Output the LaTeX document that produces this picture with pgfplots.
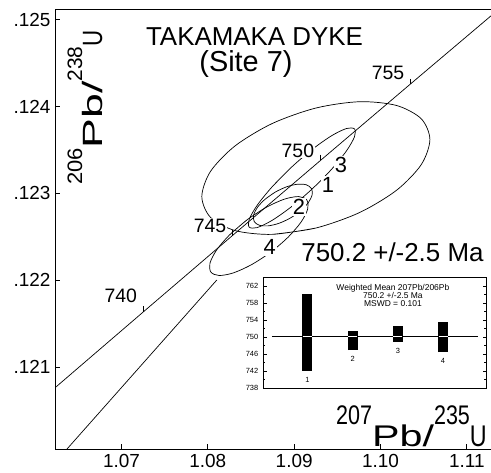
\documentclass[border=0pt]{standalone}
\usepackage{pgfplots}
\pgfplotsset{compat=1.18}
\usepackage{fontspec}
\setmainfont{Liberation Sans}
\usepackage{graphicx}
\newcommand{\fs}[1]{\fontsize{#1}{#1}\selectfont}
\begin{document}
\begin{tikzpicture}
\begin{axis}[
  name=main,
  scale only axis, width=436bp, height=440.3bp,
  xmin=1.0623, xmax=1.1128, ymin=0.120057, ymax=0.125121,
  axis x line*=bottom, axis y line*=left,
  axis line style={line width=0.9bp, black},
  xtick={1.07,1.08,1.09,1.10,1.11},
  xticklabels={1.07,1.08,1.09,1.10,1.11},
  ytick={0.121,0.122,0.123,0.124,0.125},
  yticklabels={.121,.122,.123,.124,.125},
  scaled x ticks=false, scaled y ticks=false,
  tick align=inside, major tick length=5bp,
  tick style={line width=0.7bp, black},
  ticklabel style={font=\fs{19}},
  xticklabel style={yshift=-1.5bp, inner sep=3bp},
  yticklabel style={xshift=-1bp},
  every axis plot/.append style={line width=0.7bp, black},
]
% ellipse 1 (large)
\addplot[smooth] coordinates {
(1.092514,0.1226017) (1.087459,0.1225289) (1.083174,0.1225721) (1.080310,0.1227249)
(1.079305,0.1229640) (1.080310,0.1232531) (1.083174,0.1235479) (1.087459,0.1238039)
(1.092514,0.1239819) (1.097569,0.1240547) (1.101854,0.1240115) (1.104718,0.1238587)
(1.105723,0.1236196) (1.104718,0.1233305) (1.101854,0.1230357) (1.097569,0.1227797)
(1.092514,0.1226017) (1.087459,0.1225289)};
% ellipse 3
\addplot[smooth] coordinates {
(1.089707,0.1233030) (1.087462,0.1230773) (1.085739,0.1228667) (1.084801,0.1227034)
(1.084790,0.1226121) (1.085708,0.1226068) (1.087416,0.1226883) (1.089652,0.1228441)
(1.092077,0.1230506) (1.094322,0.1232763) (1.096045,0.1234869) (1.096983,0.1236502)
(1.096994,0.1237415) (1.096076,0.1237468) (1.094368,0.1236653) (1.092132,0.1235095)
(1.089707,0.1233030) (1.087462,0.1230773)};
% ellipse 2
\addplot[smooth] coordinates {
(1.087821,0.1230157) (1.086620,0.1229317) (1.085734,0.1228377) (1.085298,0.1227482)
(1.085378,0.1226765) (1.085963,0.1226338) (1.086963,0.1226265) (1.088226,0.1226557)
(1.089559,0.1227169) (1.090760,0.1228009) (1.091646,0.1228949) (1.092082,0.1229844)
(1.092002,0.1230561) (1.091417,0.1230988) (1.090417,0.1231061) (1.089154,0.1230769)
(1.087821,0.1230157) (1.086620,0.1229317)};
% ellipse 4
\addplot[smooth] coordinates {
(1.084514,0.1226935) (1.082495,0.1225206) (1.080996,0.1223460) (1.080245,0.1221964)
(1.080357,0.1220945) (1.081313,0.1220558) (1.082969,0.1220862) (1.085073,0.1221812)
(1.087304,0.1223261) (1.089323,0.1224990) (1.090822,0.1226736) (1.091573,0.1228232)
(1.091462,0.1229251) (1.090505,0.1229638) (1.088849,0.1229334) (1.086745,0.1228384)
(1.084514,0.1226935) (1.082495,0.1225206)};
% lower line
\addplot[sharp plot] coordinates {(1.0635,0.120039) (1.08104,0.122004)};
% concordia
\addplot[sharp plot] coordinates {(1.0522576,0.1199021) (1.062378,0.1207711) (1.0725692,0.1216407)
 (1.0828002,0.1225110) (1.0930823,0.1233820) (1.103414,0.1242536) (1.1137973,0.1251260)};
\addplot[only marks, mark=|, mark size=2.8bp, mark options={yshift=2.8bp, line width=0.6bp}]
 coordinates {(1.0725692,0.1216407) (1.0828002,0.1225110) (1.0930823,0.1233820) (1.103414,0.1242536)};
% age labels
\node[anchor=south east, inner sep=0.5bp, fill=white, font=\fs{19.5}, xshift=-6bp, yshift=8bp] at (axis cs:1.0725692,0.1216407) {740};
\node[anchor=south east, inner sep=0.5bp, fill=white, font=\fs{19.5}, xshift=-5bp, yshift=3bp] at (axis cs:1.0828002,0.1225110) {745};
\node[anchor=south east, inner sep=0.5bp, fill=white, font=\fs{19.5}, xshift=-6bp, yshift=2bp] at (axis cs:1.0930823,0.1233820) {750};
\node[anchor=south east, inner sep=0.5bp, fill=white, font=\fs{19.5}, xshift=-5bp, yshift=4bp] at (axis cs:1.103414,0.1242536) {755};
% grain labels
\node[inner sep=1bp, fill=white, font=\fs{22}] at (axis cs:1.095411,0.1233263) {3};
\node[inner sep=1bp, fill=white, font=\fs{22}] at (axis cs:1.093904,0.1230963) {1};
\node[inner sep=1bp, fill=white, font=\fs{22}] at (axis cs:1.090544,0.1228433) {2};
\node[inner sep=1bp, fill=white, font=\fs{22}] at (axis cs:1.087184,0.1223832) {4};
% titles
\node[anchor=base, font=\fs{26}] at (axis description cs:0.4576,0.918) {TAKAMAKA DYKE};
\node[anchor=base, font=\fs{29}] at (axis description cs:0.438,0.859) {(Site 7)};
\node[anchor=base, font=\fs{26}] at (axis description cs:0.774,0.4254) {750.2 +/-2.5 Ma};
% axis labels
\node[anchor=base east, inner sep=0pt] at (axis description cs:0.9908,0.0064)
 {\fs{30}\raisebox{21.5bp}{\fs{27}\scalebox{0.8}[1]{207}}\scalebox{1.38}[1]{Pb/}\raisebox{21.5bp}{\fs{27}\scalebox{0.8}[1]{235}}\scalebox{0.78}[1]{U}};
\node[anchor=base west, rotate=90, inner sep=0pt] at (axis description cs:0.1078,0.600)
 {\fs{28}\raisebox{20bp}{\fs{21}\scalebox{1.05}[1]{206}}\scalebox{1.6}[1]{Pb/}\raisebox{20bp}{\fs{21}238}\scalebox{0.8}[1]{U}};
\end{axis}
\draw[line width=0.9bp] (main.north west) -- (main.north east);
\begin{axis}[
  at={(main.south west)}, anchor=south west, xshift=208.3bp, yshift=60.6bp,
  scale only axis, width=222.7bp, height=111.7bp,
  xmin=0.022, xmax=4.95, ymin=737.8, ymax=764.1,
  xtick=\empty,
  ytick={738,742,746,750,754,758,762},
  minor ytick={740,744,748,752,756,760},
  /pgf/number format/assume math mode=true,
  tick align=inside, major tick length=3.5bp, minor tick length=2bp,
  tick style={line width=0.5bp, black},
  yticklabel style={font=\fs{7.5}, xshift=-1.5bp},
  axis line style={line width=0.6bp},
  axis background/.style={fill=white},
]
\addplot[line width=0.7bp] coordinates {(0.21,750.2) (4.77,750.2)};
\addplot[line width=10bp] coordinates {(1,742.0) (1,760.0)};
\addplot[line width=10bp] coordinates {(2,746.9) (2,751.5)};
\addplot[line width=10bp] coordinates {(3,748.9) (3,752.6)};
\addplot[line width=10bp] coordinates {(4,746.4) (4,753.4)};
\addplot[white, line width=0.6bp] coordinates {(0.9,750.2) (1.1,750.2)};
\addplot[white, line width=0.6bp] coordinates {(1.9,750.2) (2.1,750.2)};
\addplot[white, line width=0.6bp] coordinates {(2.9,750.2) (3.1,750.2)};
\addplot[white, line width=0.6bp] coordinates {(3.9,750.2) (4.1,750.2)};
\node[anchor=north, font=\fs{7.5}, yshift=-3bp] at (axis cs:1,742.0) {1};
\node[anchor=north, font=\fs{7.5}, yshift=-3bp] at (axis cs:2,746.9) {2};
\node[anchor=north, font=\fs{7.5}, yshift=-3bp] at (axis cs:3,748.9) {3};
\node[anchor=north, font=\fs{7.5}, yshift=-3bp] at (axis cs:4,746.4) {4};
\node[anchor=north, align=center, font=\fontsize{8.5}{8.3}\selectfont, inner sep=0pt] at (axis description cs:0.582,0.94)
 {Weighted Mean 207Pb/206Pb\\750.2 +/-2.5 Ma\\MSWD = 0.101};
\end{axis}
\pgfresetboundingbox
\path[use as bounding box] ([shift={(-55bp,-23.7bp)}]main.south west) rectangle ++(491bp,473bp);
\end{tikzpicture}
\end{document}
